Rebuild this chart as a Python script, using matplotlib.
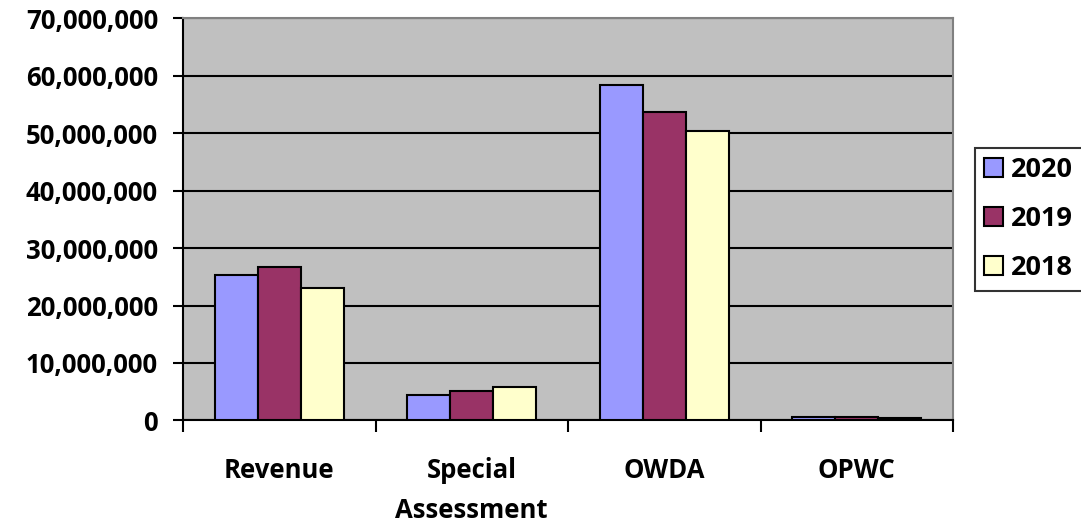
import numpy as np
import matplotlib
matplotlib.use("Agg")
import matplotlib.pyplot as plt
from matplotlib.ticker import FuncFormatter

# data
categories = ["Revenue", "Special\nAssessment", "OWDA", "OPWC"]
years = ["2020", "2019", "2018"]
vals_2020 = [25300000, 4400000, 58300000, 600000]
vals_2019 = [26700000, 5100000, 53700000, 600000]
vals_2018 = [23100000, 5800000, 50400000, 400000]
series = [vals_2020, vals_2019, vals_2018]
colors = ["#9999FF", "#993366", "#FFFFCC"]

plt.rcParams['font.family'] = ['Open Sans', 'DejaVu Sans']
plt.rcParams['font.weight'] = 'bold'
FS = 18.5

fig = plt.figure(figsize=(10.81, 5.27), dpi=100)
ax = fig.add_axes([0.1693, 0.2021, 0.7123, 0.7637])
ax.set_facecolor("#C0C0C0")

x = np.arange(len(categories))
w = 0.223
for i, (vals, c, yr) in enumerate(zip(series, colors, years)):
    ax.bar(x + (i - 1) * w, vals, w, color=c, edgecolor="black",
           linewidth=1.5, label=yr, zorder=3)

ax.set_xlim(-0.5, len(categories) - 0.5)
ax.set_ylim(0, 70000000)
ax.set_yticks(np.arange(0, 70000001, 10000000))
ax.yaxis.set_major_formatter(FuncFormatter(lambda v, p: f"{int(v):,}"))
ax.grid(axis='y', color='black', linewidth=1.5, zorder=1)

# category ticks on the boundaries, labels in the middle
ax.set_xticks(np.arange(-0.5, len(categories), 1.0))
ax.set_xticklabels([])
ax.set_xticks(x, minor=True)
ax.set_xticklabels(categories, minor=True, fontsize=FS, fontweight='bold',
                   linespacing=1.62)
ax.tick_params(axis='x', which='minor', length=0, pad=26)
ax.tick_params(axis='x', which='major', length=8.5, width=1.5, direction='out')
ax.tick_params(axis='y', length=7, width=1.5, labelsize=FS, pad=11)
for lbl in ax.get_yticklabels():
    lbl.set_fontweight('bold')

for side in ['top', 'right']:
    ax.spines[side].set_color('#808080')
    ax.spines[side].set_linewidth(1.5)
ax.spines['left'].set_linewidth(1.5)
ax.spines['bottom'].set_linewidth(1.5)

leg = ax.legend(loc='center left', bbox_to_anchor=(1.028, 0.5), fontsize=19.5,
                frameon=True, fancybox=False, edgecolor='black',
                handlelength=0.7, handleheight=0.7, handletextpad=0.3,
                labelspacing=0.85, borderpad=0.35, borderaxespad=0)
leg.get_frame().set_linewidth(1.5)
for t in leg.get_texts():
    t.set_fontweight('bold')

fig.savefig("out.png", dpi=100)
